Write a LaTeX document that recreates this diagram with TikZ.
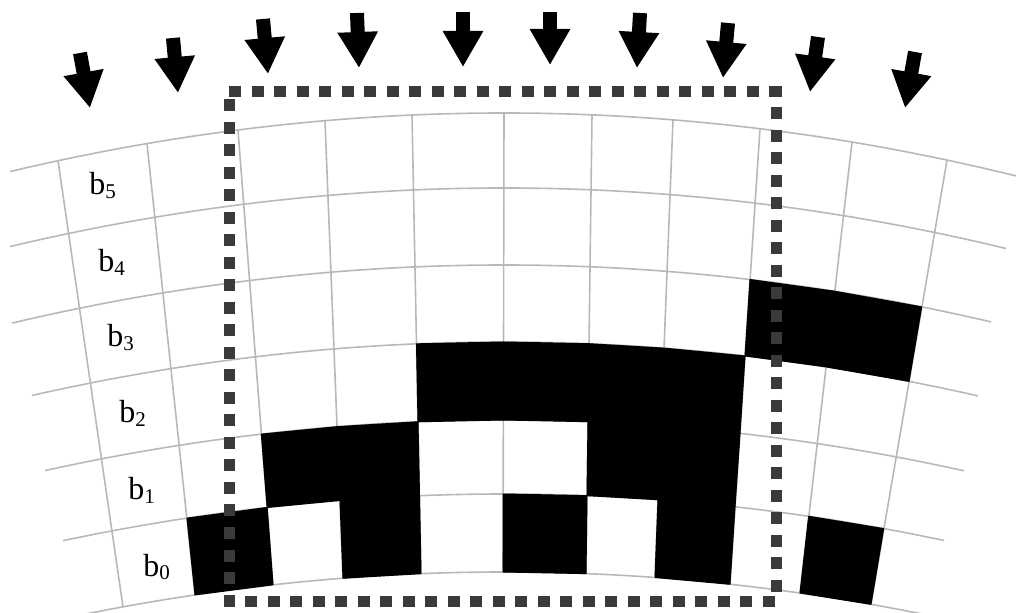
\documentclass[tikz,border=0pt]{standalone}
\usepackage{fontspec}
\setmainfont{Liberation Serif}
\usetikzlibrary{arrows.meta}
\definecolor{gridgray}{HTML}{B8B8B8}
\definecolor{dashgray}{HTML}{3A3A3A}
\newcommand{\bsub}[1]{b\raisebox{-1.7pt}{\fontsize{10.5}{10.5}\selectfont #1}}
\begin{document}
\begin{tikzpicture}[x=0.5pt,y=-0.5pt,
  gridline/.style={draw=gridgray, line width=0.8pt},
  cell/.style={fill=black, draw=black, line width=0.5pt, line join=round},
  bigarrow/.style={line width=7pt, -{Triangle[width=19pt,length=18pt]}},
  window/.style={draw=dashgray, line width=5.5pt, line join=miter, dash pattern=on 6pt off 5.25pt},
  lbl/.style={anchor=base west, inner sep=0pt, font=\fontsize{16}{16}\selectfont}]
\useasboundingbox (0,0) rectangle (1016,613);
\clip (0,0) rectangle (1016,613);
% grid geometry (pixel units, y downward)
\def\Xt{{58,147,238,325,412,504,592,673,760,852,947}}
\def\Xb{{123,195,273,343,421,503,586,655,730,800,871}}
\def\Vc{{572,494,420,342,265,188,113}}
\def\Al{{78,63,45,32,12,10,10}}
\def\Ar{{945,944,964,978,991,1006,1020}}
\foreach \i in {0,...,10}{
  \foreach \j in {0,...,6}{
    \pgfmathsetmacro\px{\Xb[\i]+(\Xt[\i]-\Xb[\i])*\j/6}
    \pgfmathsetmacro\py{\Vc[\j]+2.4*((\px-504)/100)^2}
    \coordinate (p-\i-\j) at (\px,\py);
  }
}
% arcs
\foreach \j in {0,...,6}{
  \pgfmathsetmacro\vc{\Vc[\j]}
  \pgfmathsetmacro\xl{\Al[\j]}
  \pgfmathsetmacro\xr{\Ar[\j]}
  \draw[gridline] plot[domain=\xl:\xr, samples=60, smooth] (\x,{\vc+2.4*((\x-504)/100)^2});
}
% radial lines
\foreach \i in {0,...,10}{
  \draw[gridline] (p-\i-0) -- (p-\i-6);
}
% black cells
\foreach \i/\j [evaluate=\i as \ii using int(\i+1), evaluate=\j as \jj using int(\j+1)] in
  {1/0,3/0,5/0,7/0,9/0, 2/1,3/1,6/1,7/1, 4/2,5/2,6/2,7/2, 8/3,9/3}{
  \path[cell] (p-\i-\j) -- (p-\ii-\j) -- (p-\ii-\jj) -- (p-\i-\jj) -- cycle;
}
% labels
\node[lbl] (lb5) at (89,195) {\bsub{5}};
\node[lbl] (lb4) at (98,272) {\bsub{4}};
\node[lbl] (lb3) at (107,347) {\bsub{3}};
\node[lbl] (lb2) at (119,423) {\bsub{2}};
\node[lbl] (lb1) at (128,500) {\bsub{1}};
\node[lbl] (lb0) at (143,576) {\bsub{0}};
% arrows
\foreach \k/\sx/\sy/\tx/\ty in {1/80/53/90/108, 2/173/38/178/93, 3/263/19/268/74,
  4/357/13/359/68, 5/463/12/463/67, 6/550/12/550/65, 7/640/13/637/68,
  8/728/23/723/78, 9/818/37/810/92, 10/915/52/905/108}{
  \coordinate (as\k) at (\sx,\sy);
  \coordinate (at\k) at (\tx,\ty);
  \draw[bigarrow] (as\k) -- (at\k);
}
% dashed window
\coordinate (wtl) at (229,92);
\coordinate (wtr) at (776,92);
\coordinate (wbr) at (776,601);
\coordinate (wbl) at (229,601);
\draw[window] (wtl) -- (wtr) -- (wbr) -- (wbl) -- cycle;
\end{tikzpicture}
\end{document}
